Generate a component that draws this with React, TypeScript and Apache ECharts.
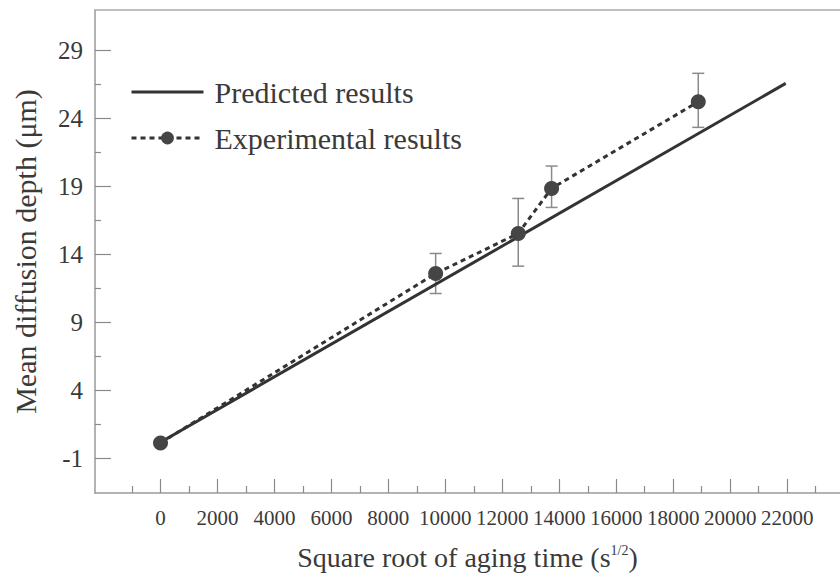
import React, { useEffect, useRef } from "react";
import * as echarts from "echarts";

const xMajorTicks = [0, 2000, 4000, 6000, 8000, 10000, 12000, 14000, 16000, 18000, 20000, 22000];
const xMinorTicks = [-1000, 1000, 3000, 5000, 7000, 9000, 11000, 13000, 15000, 17000, 19000, 21000, 23000];
const yMajorTicks = [-1, 4, 9, 14, 19, 24, 29];
const yMinorTicks = [1.5, 6.5, 11.5, 16.5, 21.5, 26.5];

const predictedX = [0, 21950];
const predictedY = [0.2, 26.55];

const expX = [0, 9660, 12560, 13730, 18880];
const expY = [0.15, 12.59, 15.53, 18.84, 25.2];
const errLow = [null, 11.12, 13.13, 17.44, 23.32];
const errHigh = [null, 14.06, 18.1, 20.48, 27.29];

const FONT = '"Liberation Serif", "Times New Roman", "DejaVu Serif", serif';
const X_MIN = -2300;
const X_MAX = 23856;
const Y_MIN = -3.53;
const Y_MAX = 31.94;

export default function App() {
  const ref = useRef<HTMLDivElement>(null);
  useEffect(() => {
    if (!ref.current) return;
    const chart = echarts.init(ref.current, undefined, { renderer: "svg" });
    const errData = expX
      .map((x, i) => [x, errLow[i], errHigh[i]])
      .filter((d) => d[1] !== null);
    const baseX = {
      type: "value" as const,
      min: X_MIN,
      max: X_MAX,
      splitLine: { show: false },
    };
    const baseY = {
      type: "value" as const,
      min: Y_MIN,
      max: Y_MAX,
      splitLine: { show: false },
    };
    chart.setOption({
      animation: false,
      backgroundColor: "#ffffff",
      grid: { left: 95, right: -2, top: 10, bottom: 85, containLabel: false },
      legend: {
        orient: "vertical",
        left: 125,
        top: 72,
        itemWidth: 72,
        itemHeight: 16,
        itemGap: 16,
        selectedMode: false,
        data: [
          { name: "Predicted results", itemStyle: { opacity: 0 } },
          { name: "Experimental results" },
        ],
        lineStyle: { width: 3 },
        textStyle: {
          fontFamily: FONT,
          fontSize: 30,
          color: "#3a3a3a",
          padding: [0, 0, 0, 6],
        },
      },
      xAxis: [
        {
          ...baseX,
          position: "bottom",
          axisLine: { show: true, onZero: false, lineStyle: { color: "#9a9a9a", width: 1.5 } },
          axisTick: {
            show: true,
            inside: true,
            length: 14,
            customValues: xMajorTicks,
            lineStyle: { color: "#8a8a8a", width: 1.2 },
          },
          axisLabel: {
            customValues: xMajorTicks,
            margin: 14,
            fontFamily: FONT,
            fontSize: 21,
            color: "#3a3a3a",
            hideOverlap: false,
            formatter: (v: number) => String(v),
          },
          name: "{a|Square root of aging time (s}{s|1/2}{a|)}",
          nameLocation: "middle",
          nameGap: 50,
          nameTextStyle: {
            rich: {
              a: { fontFamily: FONT, fontSize: 28, color: "#3a3a3a" },
              s: { fontFamily: FONT, fontSize: 14, color: "#3a3a3a", verticalAlign: "top", padding: [0, 0, 12, 0] },
            },
          },
        },
        {
          ...baseX,
          position: "bottom",
          axisLine: { show: false, onZero: false },
          axisTick: {
            show: true,
            inside: true,
            length: 7,
            customValues: xMinorTicks,
            lineStyle: { color: "#8a8a8a", width: 1.2 },
          },
          axisLabel: { show: false },
        },
        {
          ...baseX,
          position: "top",
          axisLine: { show: true, onZero: false, lineStyle: { color: "#aaaaaa", width: 1.5 } },
          axisTick: { show: false },
          axisLabel: { show: false },
        },
      ],
      yAxis: [
        {
          ...baseY,
          position: "left",
          axisLine: { show: true, onZero: false, lineStyle: { color: "#9a9a9a", width: 1.5 } },
          axisTick: {
            show: true,
            inside: true,
            length: 16,
            customValues: yMajorTicks,
            lineStyle: { color: "#8a8a8a", width: 1.2 },
          },
          axisLabel: {
            customValues: yMajorTicks,
            margin: 12,
            fontFamily: FONT,
            fontSize: 25,
            color: "#3a3a3a",
          },
          name: "Mean diffusion depth (μm)",
          nameLocation: "middle",
          nameGap: 55,
          nameRotate: 90,
          nameTextStyle: { fontFamily: FONT, fontSize: 30, color: "#3a3a3a" },
        },
        {
          ...baseY,
          position: "left",
          axisLine: { show: false, onZero: false },
          axisTick: {
            show: true,
            inside: true,
            length: 6,
            customValues: yMinorTicks,
            lineStyle: { color: "#8a8a8a", width: 1.2 },
          },
          axisLabel: { show: false },
        },
      ],
      series: [
        {
          name: "Predicted results",
          type: "line",
          data: predictedX.map((x, i) => [x, predictedY[i]]),
          symbol: "none",
          lineStyle: { color: "#333333", width: 3 },
          itemStyle: { color: "#333333" },
          z: 3,
        },
        {
          name: "error",
          type: "custom",
          data: errData,
          encode: { x: 0, y: [1, 2] },
          z: 2,
          renderItem: (params: any, api: any) => {
            const x = api.value(0);
            const lo = api.coord([x, api.value(1)]);
            const hi = api.coord([x, api.value(2)]);
            const hw = 6;
            const style = { stroke: "#8a8a8a", lineWidth: 1.5 };
            return {
              type: "group",
              children: [
                { type: "line", shape: { x1: lo[0], y1: lo[1], x2: hi[0], y2: hi[1] }, style },
                { type: "line", shape: { x1: lo[0] - hw, y1: lo[1], x2: lo[0] + hw, y2: lo[1] }, style },
                { type: "line", shape: { x1: hi[0] - hw, y1: hi[1], x2: hi[0] + hw, y2: hi[1] }, style },
              ],
            };
          },
        },
        {
          name: "Experimental results",
          type: "line",
          data: expX.map((x, i) => [x, expY[i]]),
          symbol: "circle",
          symbolSize: 15,
          lineStyle: { color: "#333333", width: 3, type: [5, 4] },
          itemStyle: { color: "#454545" },
          z: 4,
        },
      ],
    });
    return () => chart.dispose();
  }, []);
  return (
    <div
      ref={ref}
      style={{ position: "absolute", left: 0, top: 0, width: 840, height: 578 }}
    />
  );
}
